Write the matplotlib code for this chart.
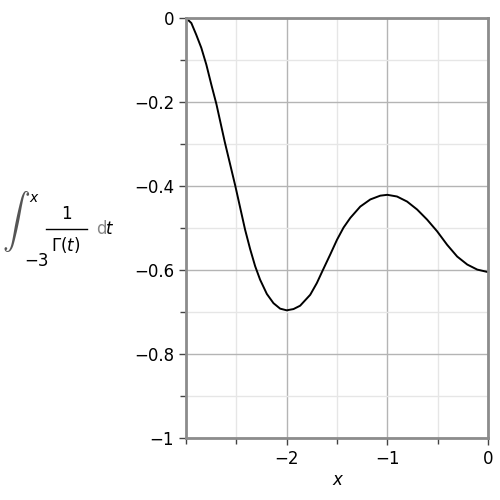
import matplotlib
matplotlib.use("Agg")
import matplotlib.pyplot as plt
from matplotlib.lines import Line2D
from matplotlib.ticker import MultipleLocator, FixedLocator

# ----- DATA -----
x_vals = [-3.0, -2.947, -2.898, -2.848, -2.798, -2.748, -2.698, -2.615,
          -2.51, -2.413, -2.363, -2.313, -2.264, -2.197, -2.131, -2.065,
          -2.0, -1.932, -1.866, -1.766, -1.70, -1.64, -1.567, -1.5,
          -1.435, -1.368, -1.269, -1.169, -1.07, -1.0, -0.904, -0.804,
          -0.704, -0.605, -0.505, -0.406, -0.306, -0.206, -0.107, 0.0]
y_vals = [0.0, -0.012, -0.040, -0.071, -0.111, -0.159, -0.205, -0.295,
          -0.400, -0.504, -0.550, -0.591, -0.623, -0.657, -0.679, -0.692,
          -0.696, -0.693, -0.685, -0.659, -0.631, -0.600, -0.563, -0.528,
          -0.499, -0.476, -0.449, -0.432, -0.423, -0.421, -0.425, -0.437,
          -0.456, -0.480, -0.508, -0.540, -0.568, -0.587, -0.599, -0.605]

x_ticks = [-2, -1, 0]
x_tick_labels = ["\u22122", "\u22121", "0"]
y_ticks = [0, -0.2, -0.4, -0.6, -0.8, -1]
y_tick_labels = ["0", "\u22120.2", "\u22120.4", "\u22120.6", "\u22120.8", "\u22121"]

# ----- FIGURE -----
fig = plt.figure(figsize=(5, 5), dpi=100)
ax = fig.add_axes([0.372, 0.124, 0.604, 0.840])

ax.plot(x_vals, y_vals, color="black", lw=1.4)

ax.set_xlim(-3, 0)
ax.set_ylim(-1, 0)

ax.xaxis.set_major_locator(FixedLocator(x_ticks))
ax.set_xticklabels(x_tick_labels)
ax.xaxis.set_minor_locator(MultipleLocator(0.5))
ax.yaxis.set_major_locator(FixedLocator(y_ticks))
ax.set_yticklabels(y_tick_labels)
ax.yaxis.set_minor_locator(MultipleLocator(0.1))

ax.grid(which="major", color="#b4b4b4", lw=1.0)
ax.grid(which="minor", color="#e6e6e6", lw=1.0)
ax.set_axisbelow(True)

for s in ax.spines.values():
    s.set_color("#8c8c8c")
    s.set_linewidth(2)

ax.tick_params(which="both", direction="out", color="#444444", labelsize=12,
               labelcolor="black")
ax.tick_params(which="major", length=5, width=1)
ax.tick_params(which="minor", length=4, width=1)

ax.set_xlabel("x", fontsize=12, style="italic", labelpad=2)

# ----- Y LABEL: integral expression, built from pieces -----
def px(x, y):
    return x / 500, 1 - y / 500

fig.text(*px(2, 222), r"$\int$", fontsize=20, ha="left", va="center",
         math_fontfamily="cm", color="#555555")
fig.text(*px(33, 198), "x", fontsize=10, style="italic", ha="center", va="center")
fig.text(*px(36, 261), "\u22123", fontsize=12, ha="center", va="center")
fig.text(*px(66, 214), "1", fontsize=12, ha="center", va="center")
fig.add_artist(Line2D([46 / 500, 87 / 500], [1 - 229 / 500, 1 - 229 / 500],
                      color="black", lw=1.0))
fig.text(*px(66, 245), r"$\Gamma(t)$", fontsize=12, ha="center", va="center")
fig.text(*px(96, 229), "d", fontsize=12, color="#888888", ha="left", va="center")
fig.text(*px(106, 229), "t", fontsize=12, style="italic", ha="left", va="center")

fig.savefig("out.png", dpi=100)
